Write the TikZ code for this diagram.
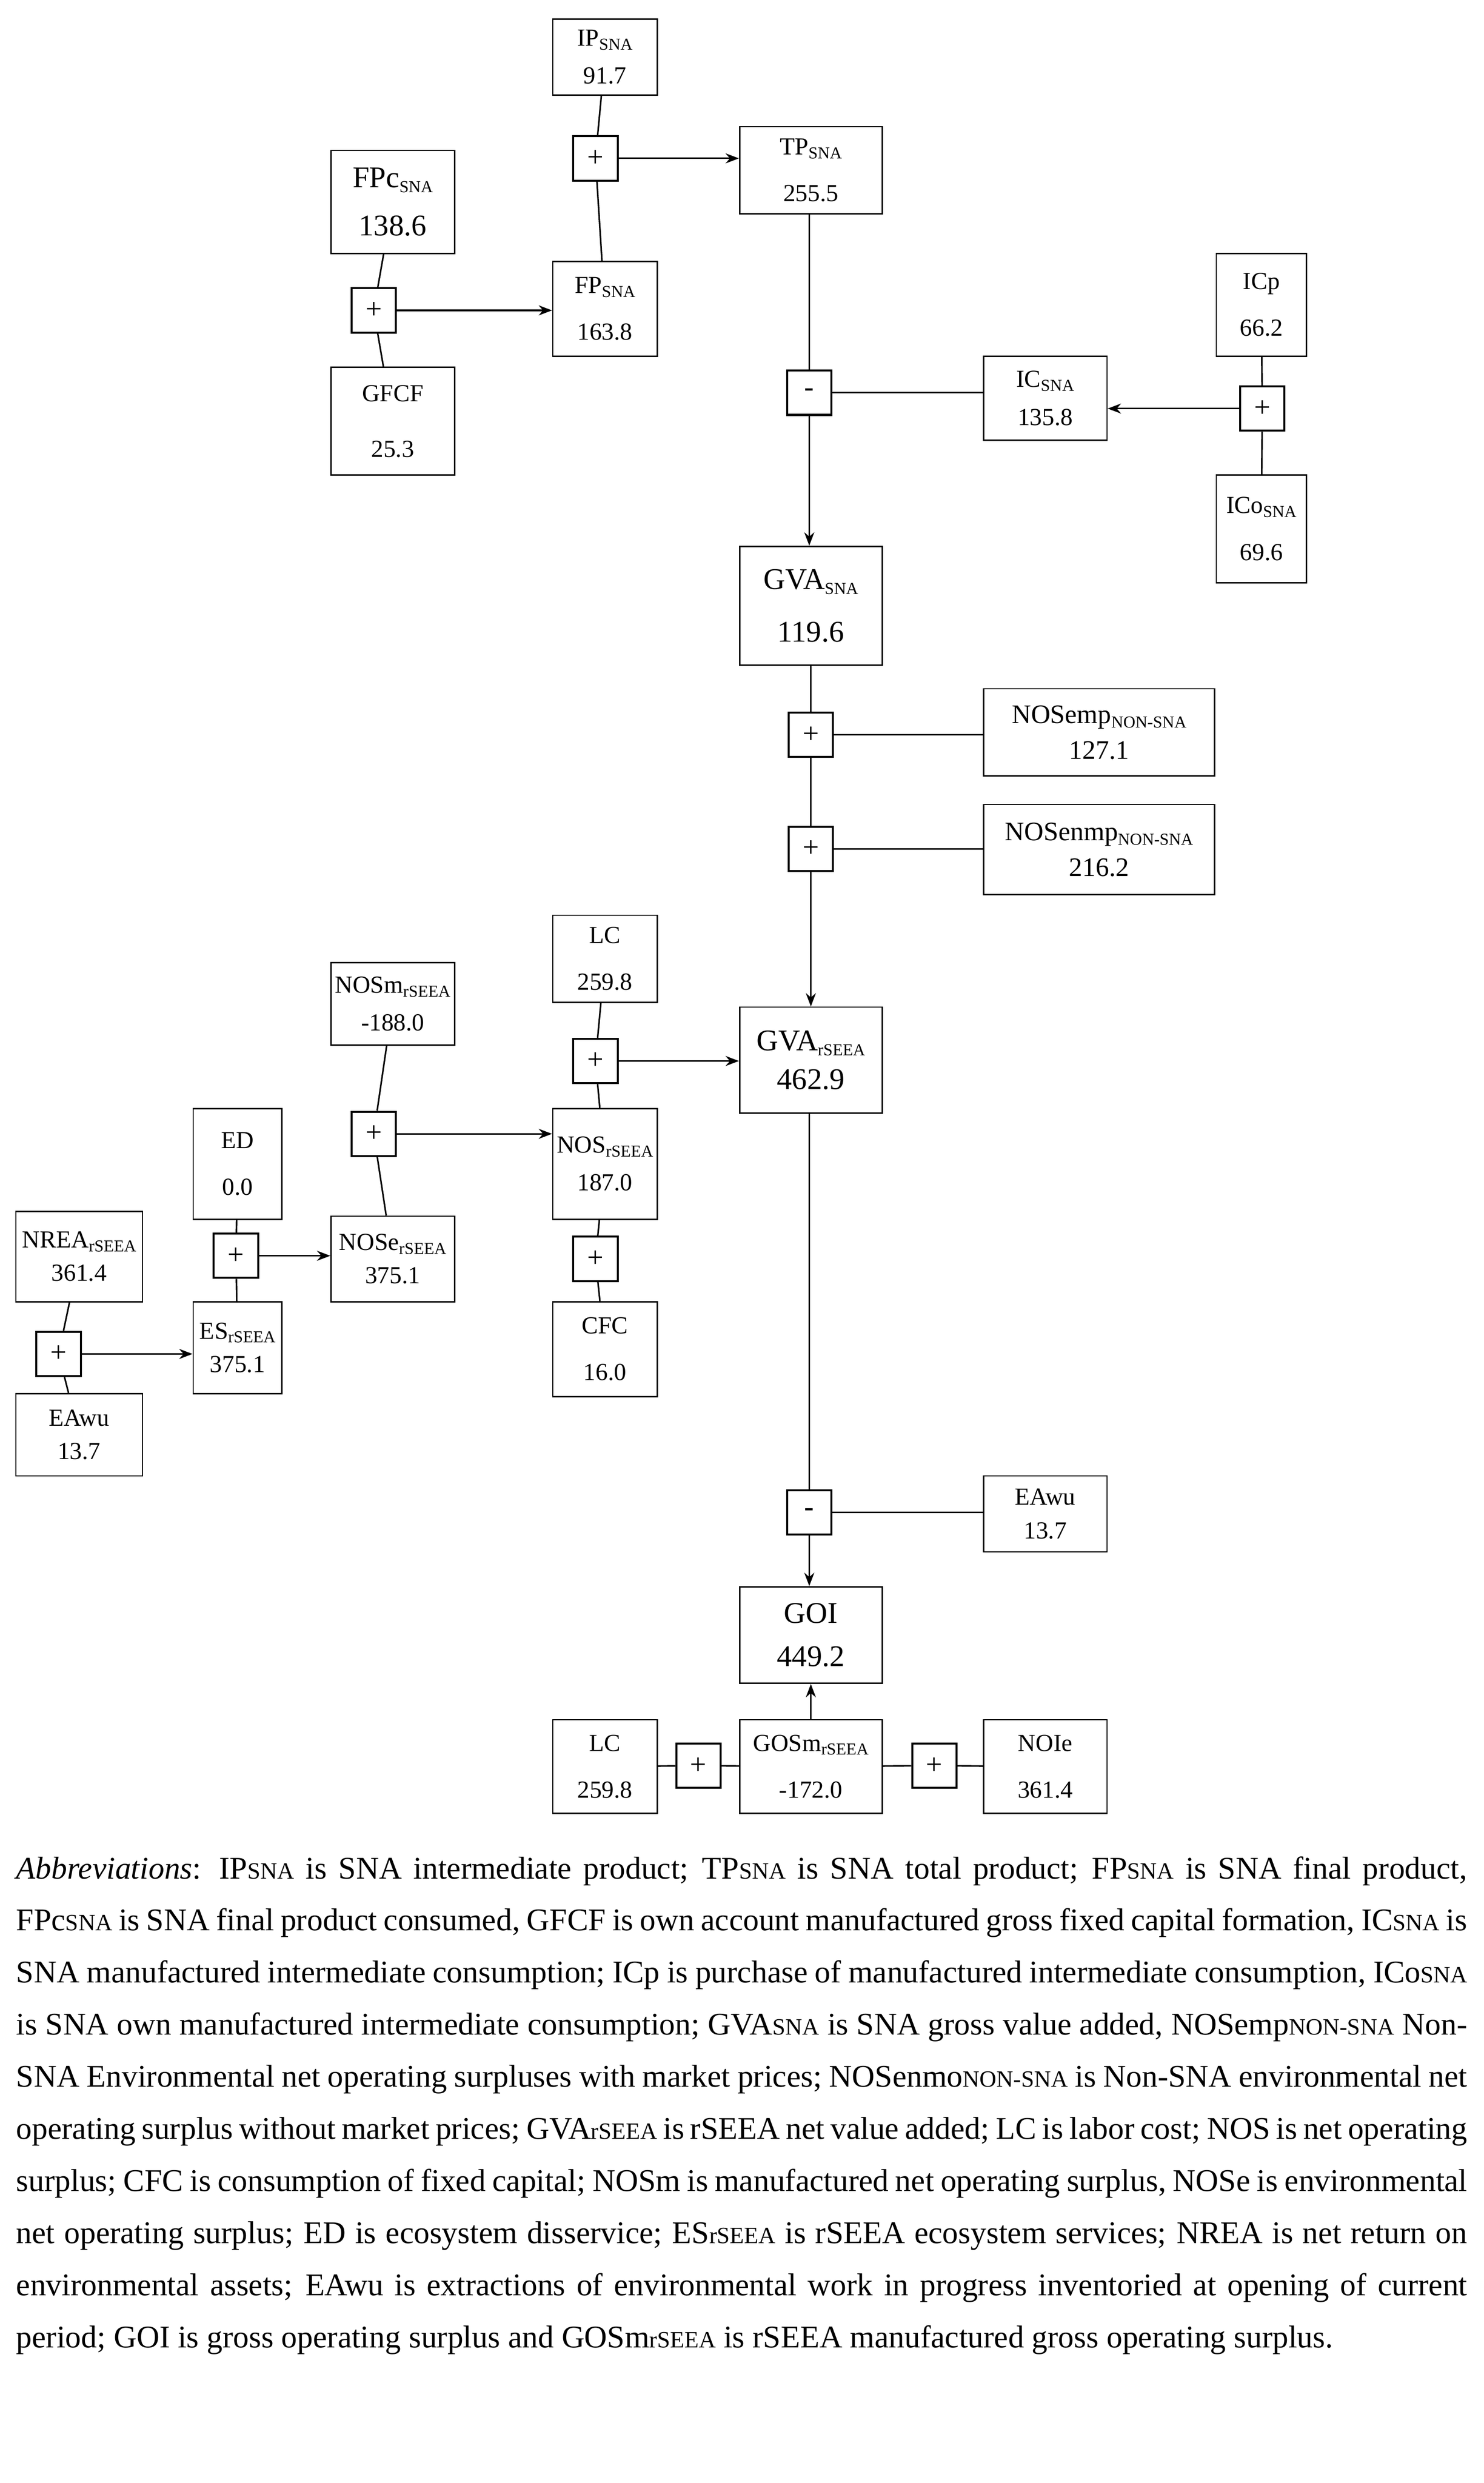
\documentclass[tikz,border=0pt]{standalone}
\usepackage{fontspec}
\setmainfont{Liberation Serif}
\usetikzlibrary{arrows.meta}
\newcommand{\sbt}[1]{\raisebox{-0.35ex}{\fontsize{7.5}{8}\selectfont #1}}
\newcommand{\ssc}[1]{{\fontsize{10.5}{12}\selectfont #1}}
\newcommand{\bx}[7][11]{\node[box,font=\fontsize{#1}{#1}\selectfont,minimum width={(#5-#3)*0.025cm},minimum height={(#6-#4)*0.025cm}] (#2) at ({(#3+#5)/2},{(#4+#6)/2}) {#7};}
\newcommand{\op}[4]{\node[opb] (#1) at (#2,#3) {#4};}
\begin{document}
\begin{tikzpicture}[x=0.025cm,y=-0.025cm,
 box/.style={draw,line width=0.6pt,align=center,inner sep=1pt},
 opb/.style={draw,line width=0.9pt,minimum size=0.7cm,inner sep=0pt,font=\fontsize{13}{13}\selectfont},
 ln/.style={line width=0.7pt},
 ar/.style={line width=0.7pt,-{Stealth[length=6pt,width=4.5pt]}}]
\useasboundingbox (0,0) rectangle (937,1568);
\fill[white] (0,0) rectangle (937,1568);
\bx{ip}{349}{12}{415}{60}{IP\sbt{SNA}\\[6pt]91.7}
\bx{tp}{467}{80}{557}{135}{TP\sbt{SNA}\\[10pt]255.5}
\bx[13.5]{fpc}{209}{95}{287}{160}{FPc\sbt{SNA}\\[8pt]138.6}
\bx{fp}{349}{165}{415}{225}{FP\sbt{SNA}\\[10pt]163.8}
\bx{gfcf}{209}{232}{287}{300}{GFCF\\[14pt]25.3}
\bx{ic}{621}{225}{699}{278}{IC\sbt{SNA}\\[6pt]135.8}
\bx{icp}{768}{160}{825}{225}{ICp\\[10pt]66.2}
\bx{ico}{768}{300}{825}{368}{ICo\sbt{SNA}\\[10pt]69.6}
\bx[13.5]{gva}{467}{345}{557}{420}{GVA\sbt{SNA}\\[10pt]119.6}
\bx[12]{nemp}{621}{435}{767}{490}{NOSemp\sbt{NON-SNA}\\[4pt]127.1}
\bx[12]{nenmp}{621}{508}{767}{565}{NOSenmp\sbt{NON-SNA}\\[4pt]216.2}
\bx{lc}{349}{578}{415}{633}{LC\\[10pt]259.8}
\bx{nosm}{209}{608}{287}{660}{NOSm\sbt{rSEEA}\\[6pt]-188.0}
\bx[13.5]{gvar}{467}{636}{557}{703}{GVA\sbt{rSEEA}\\[4pt]462.9}
\bx{nos}{349}{700}{415}{770}{NOS\sbt{rSEEA}\\[6pt]187.0}
\bx{ed}{122}{700}{178}{770}{ED\\[10pt]0.0}
\bx{nose}{209}{768}{287}{822}{NOSe\sbt{rSEEA}\\[4pt]375.1}
\bx{nrea}{10}{765}{90}{822}{NREA\sbt{rSEEA}\\[4pt]361.4}
\bx{es}{122}{822}{178}{880}{ES\sbt{rSEEA}\\[4pt]375.1}
\bx{cfc}{349}{822}{415}{882}{CFC\\[10pt]16.0}
\bx{eaw1}{10}{880}{90}{932}{EAwu\\[4pt]13.7}
\bx{eaw2}{621}{932}{699}{980}{EAwu\\[4pt]13.7}
\bx[13.5]{goi}{467}{1002}{557}{1063}{GOI\\[6pt]449.2}
\bx{lc2}{349}{1086}{415}{1145}{LC\\[10pt]259.8}
\bx{gosm}{467}{1086}{557}{1145}{GOSm\sbt{rSEEA}\\[10pt]-172.0}
\bx{noie}{621}{1086}{699}{1145}{NOIe\\[10pt]361.4}
\op{p1}{376}{100}{+}
\op{p2}{236}{196}{+}
\op{m1}{511}{248}{-}
\op{p3}{797}{258}{+}
\op{p4}{512}{464}{+}
\op{p5}{512}{536}{+}
\op{p6}{376}{670}{+}
\op{p7}{236}{716}{+}
\op{p8}{149}{793}{+}
\op{p9}{37}{855}{+}
\op{p10}{376}{795}{+}
\op{m2}{511}{955}{-}
\op{p11}{441}{1115}{+}
\op{p12}{590}{1115}{+}
% connectors
\draw[ln] (ip) -- (p1) -- (fp);
\draw[ar] (p1) -- (p1 -| tp.west);
\draw[ln] (fpc) -- (p2) -- (gfcf);
\draw[ar] (p2) -- (p2 -| fp.west);
\draw[ln] (tp.south -| m1) -- (m1);
\draw[ar] (m1) -- (m1 |- gva.north);
\draw[ln] (ic.west |- m1) -- (m1);
\draw[ln] (icp) -- (p3) -- (ico);
\draw[ar] (p3) -- (p3 -| ic.east);
\draw[ln] (gva.south -| p4) -- (p4) -- (p5);
\draw[ar] (p5) -- (p5 |- gvar.north);
\draw[ln] (nemp.west |- p4) -- (p4);
\draw[ln] (nenmp.west |- p5) -- (p5);
\draw[ln] (lc) -- (p6) -- (nos);
\draw[ar] (p6) -- (p6 -| gvar.west);
\draw[ln] (nosm) -- (p7) -- (nose);
\draw[ar] (p7) -- (p7 -| nos.west);
\draw[ln] (ed) -- (p8) -- (es);
\draw[ar] (p8) -- (p8 -| nose.west);
\draw[ln] (nrea) -- (p9) -- (eaw1);
\draw[ar] (p9) -- (p9 -| es.west);
\draw[ln] (nos) -- (p10) -- (cfc);
\draw[ln] (gvar.south -| m2) -- (m2);
\draw[ar] (m2) -- (m2 |- goi.north);
\draw[ln] (eaw2.west |- m2) -- (m2);
\draw[ar] (gosm) -- (goi);
\draw[ln] (lc2) -- (p11) -- (gosm);
\draw[ln] (gosm) -- (p12) -- (noie);
\node[anchor=north west,inner sep=0pt,text width=22.9cm,align=justify,font=\fontsize{14.2}{23.4}\selectfont] (cap) at (10,1172) {\textit{Abbreviations}: IP\ssc{SNA} is SNA intermediate product; TP\ssc{SNA} is SNA total product; FP\ssc{SNA} is SNA final product, FPc\ssc{SNA} is SNA final product consumed, GFCF is own account manufactured gross fixed capital formation, IC\ssc{SNA} is SNA manufactured intermediate consumption; ICp is purchase of manufactured intermediate consumption, ICo\ssc{SNA} is SNA own manufactured intermediate consumption; GVA\ssc{SNA} is SNA gross value added, NOSemp\ssc{NON-SNA} Non-SNA Environmental net operating surpluses with market prices; NOSenmo\ssc{NON-SNA} is Non-SNA environmental net operating surplus without market prices; GVA\ssc{rSEEA} is rSEEA net value added; LC is labor cost; NOS is net operating surplus; CFC is consumption of fixed capital; NOSm is manufactured net operating surplus, NOSe is environmental net operating surplus; ED is ecosystem disservice; ES\ssc{rSEEA} is rSEEA ecosystem services; NREA is net return on environmental assets; EAwu is extractions of environmental work in progress inventoried at opening of current period; GOI is gross operating surplus and GOSm\ssc{rSEEA} is rSEEA manufactured gross operating surplus.\par};
\end{tikzpicture}
\end{document}
